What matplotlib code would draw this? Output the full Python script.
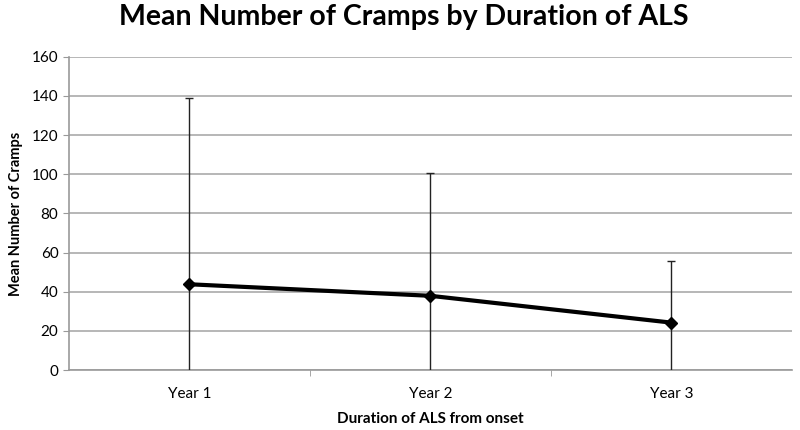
import matplotlib
matplotlib.use("Agg")
import matplotlib.pyplot as plt
import numpy as np

categories = ["Year 1", "Year 2", "Year 3"]
means = [43.8, 37.9, 24.2]
errors = [95.1, 62.6, 31.6]
yticks = [0, 20, 40, 60, 80, 100, 120, 140, 160]

plt.rcParams['font.family'] = ['Lato', 'DejaVu Sans']

fig = plt.figure(figsize=(8, 4.3), dpi=100)
ax = fig.add_axes([0.086, 0.1395, 0.904, 0.7285])

x = np.arange(len(categories))
ax.errorbar(x, means, yerr=errors, fmt='none', ecolor='#222222', elinewidth=1.0,
            capsize=3, capthick=1.0, zorder=3)
ax.plot(x, means, color='black', linewidth=3, marker='D', markersize=6.5, zorder=4)

ax.set_xlim(-0.5, len(categories) - 0.5)
ax.set_ylim(0, 160)
ax.set_yticks(yticks)
ax.set_xticks(x)
ax.set_xticklabels(categories, fontsize=11)
ax.set_xticks([0.5, 1.5], minor=True)
ax.tick_params(axis='x', which='major', length=0, pad=12)
ax.tick_params(axis='x', which='minor', length=4, color='#999999')
ax.tick_params(axis='y', length=4, color='#999999', labelsize=11)

ax.grid(axis='y', color='#aaaaaa', linewidth=1.2, zorder=0)
ax.set_axisbelow(True)
for s in ['top', 'right']:
    ax.spines[s].set_visible(False)
for s in ['left', 'bottom']:
    ax.spines[s].set_color('#999999')
    ax.spines[s].set_linewidth(1.2)

ax.set_xlabel("Duration of ALS from onset", fontsize=11, fontweight='bold', labelpad=8)
ax.set_ylabel("Mean Number of Cramps", fontsize=10.5, fontweight='bold', labelpad=6)
fig.suptitle("Mean Number of Cramps by Duration of ALS", fontsize=20.5, fontweight='bold',
             x=0.505, y=0.99)

fig.savefig("out.png", dpi=100)
